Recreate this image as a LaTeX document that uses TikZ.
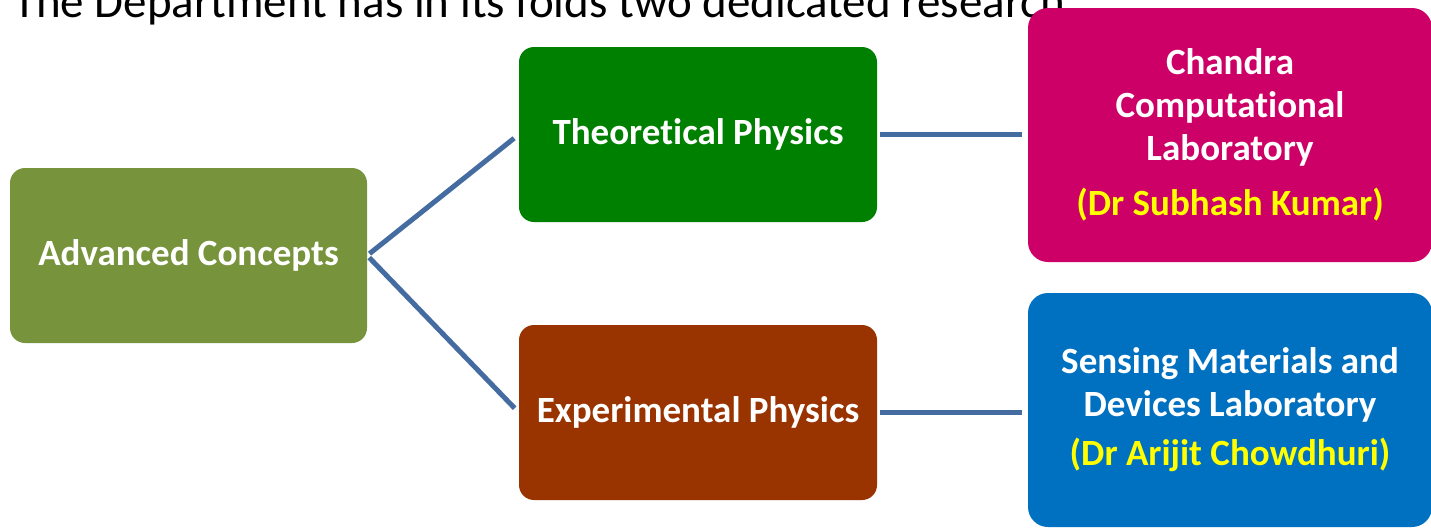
\documentclass[tikz,border=0pt]{standalone}
\usepackage{fontspec}
\setmainfont{Carlito}[Ligatures=NoCommon]
\definecolor{olivo}{HTML}{77933C}
\definecolor{verde}{HTML}{008000}
\definecolor{marron}{HTML}{993300}
\definecolor{rosa}{HTML}{CC0066}
\definecolor{azul}{HTML}{0070C0}
\definecolor{linea}{RGB}{68,108,160}
\definecolor{amarillo}{HTML}{FFFF00}
\begin{document}
\begin{tikzpicture}[
    x=1pt,
    y=-1pt,
    caja/.style={rounded corners=15pt, text=white, align=center, inner sep=0pt,
        minimum width=358pt, minimum height=175pt,
        font=\bfseries\fontsize{37}{43}\selectfont},
    lab/.style={caja, rounded corners=20pt, minimum width=404pt},
    rama/.style={draw=linea, line width=5pt, shorten <=3pt, shorten >=6pt}
]
\useasboundingbox (0,0) rectangle (1431,528);

% Encabezado (cortado arriba, tapado por la caja rosa)
\node[anchor=base west, inner sep=0pt, font=\fontsize{47}{56}\selectfont] (titulo)
    at (13,17) {The Department has in its folds two dedicated research};

% Cajas
\node[caja, fill=olivo, minimum width=357pt] (avanz) at (188.5,255.5) {Advanced Concepts};
\node[caja, fill=verde] (teor) at (698,134.5) {Theoretical Physics};
\node[caja, fill=marron] (exper) at (698,412.5) {Experimental Physics};
\node[lab, fill=rosa, minimum height=254pt] (chandra) at (1230,135)
    {Chandra\\Computational\\Laboratory\\[12pt]{\color{amarillo}(Dr Subhash Kumar)}};
\node[lab, fill=azul, minimum height=234pt] (sensing) at (1230,410)
    {Sensing Materials and\\Devices Laboratory\\[6pt]{\color{amarillo}(Dr Arijit Chowdhuri)}};

% Conectores
\draw[rama] (avanz.east) -- (teor.west);
\draw[rama] (avanz.east) -- (exper.west);
\draw[rama] (teor.east) -- (teor.east -| chandra.west);
\draw[rama] (exper.east) -- (exper.east -| sensing.west);

\end{tikzpicture}
\end{document}
